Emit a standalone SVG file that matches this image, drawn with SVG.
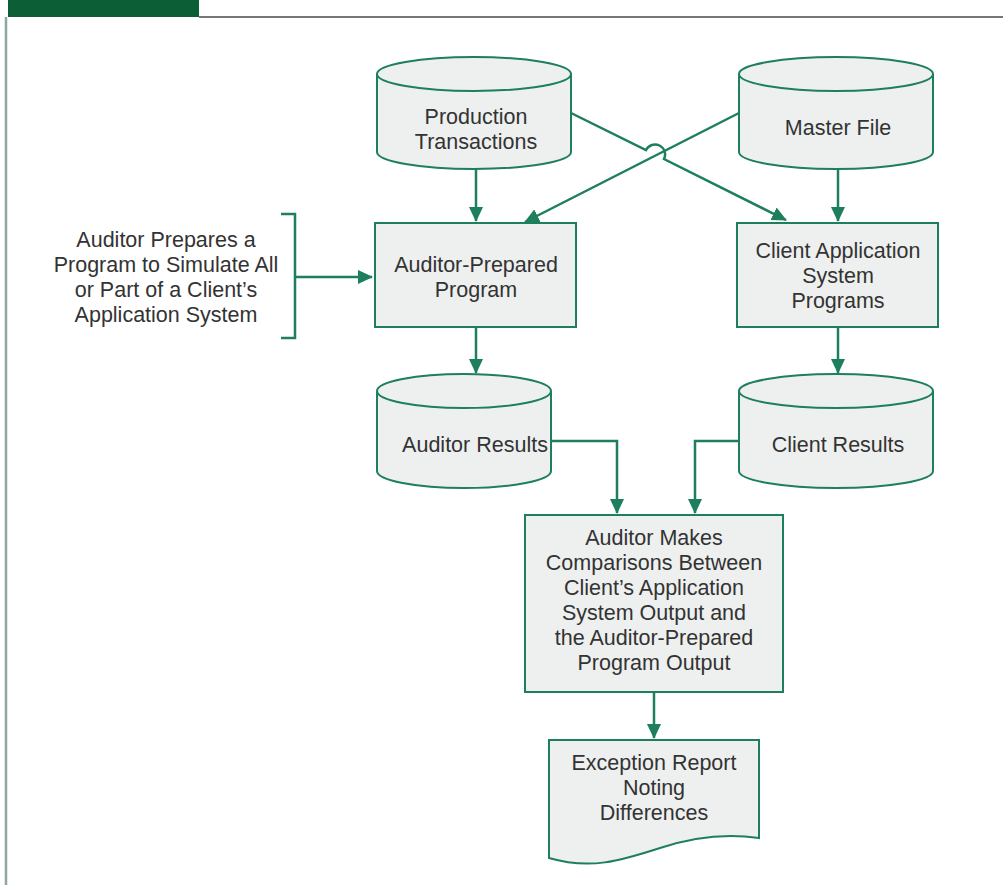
<svg xmlns="http://www.w3.org/2000/svg" width="1003" height="885" viewBox="0 0 1003 885">
<style>
.shape{fill:#eef0ef;stroke:#1d7f5c;stroke-width:2}
.line{fill:none;stroke:#1d7f5c;stroke-width:2.5}
.t{font-family:"Liberation Sans",Arial,sans-serif;font-size:21.5px;fill:#333;text-anchor:middle}
</style>
<defs>
<marker id="ah" markerWidth="16" markerHeight="14" refX="14" refY="7" orient="auto" markerUnits="userSpaceOnUse">
<path d="M0,0 L15,7 L0,14 Z" fill="#1d7f5c"/>
</marker>
</defs>
<rect width="1003" height="885" fill="#ffffff"/>
<g id="frame">
<rect x="8" y="0" width="191" height="17" fill="#0b5e36"/>
<line x1="199" y1="17" x2="1003" y2="17" stroke="#777" stroke-width="2"/>
<line x1="6" y1="17" x2="6" y2="885" stroke="#8aa99a" stroke-width="2.5"/>
</g>
<g id="connectors">
<line class="line" x1="476" y1="168" x2="476" y2="221" marker-end="url(#ah)"/>
<line class="line" x1="838" y1="168" x2="838" y2="221" marker-end="url(#ah)"/>
<path class="line" d="M571,113 L646,150 A10,10 0 0 1 664,159 L786,220" marker-end="url(#ah)"/>
<line class="line" x1="739" y1="113" x2="525" y2="222" marker-end="url(#ah)"/>
<line class="line" x1="296" y1="277" x2="372" y2="277" marker-end="url(#ah)"/>
<line class="line" x1="476" y1="327" x2="476" y2="373" marker-end="url(#ah)"/>
<line class="line" x1="838" y1="327" x2="838" y2="373" marker-end="url(#ah)"/>
<path class="line" d="M551,441 H617 V513" marker-end="url(#ah)"/>
<path class="line" d="M739,441 H695 V513" marker-end="url(#ah)"/>
<line class="line" x1="654" y1="692" x2="654" y2="738" marker-end="url(#ah)"/>
</g>
<g id="production-transactions">
<path class="shape" d="M377,74 A97,17 0 0 1 571,74 V152 A97,17 0 0 1 377,152 Z"/>
<path class="shape" d="M377,74 A97,17 0 0 0 571,74" fill="none"/>
<text class="t" x="476" y="124">Production</text>
<text class="t" x="476" y="149">Transactions</text>
</g>
<g id="master-file">
<path class="shape" d="M739,74 A97,17 0 0 1 933,74 V152 A97,17 0 0 1 739,152 Z"/>
<path class="shape" d="M739,74 A97,17 0 0 0 933,74" fill="none"/>
<text class="t" x="838" y="135">Master File</text>
</g>
<g id="auditor-note">
<text class="t" x="166" y="247">Auditor Prepares a</text>
<text class="t" x="166" y="272">Program to Simulate All</text>
<text class="t" x="166" y="297">or Part of a Client’s</text>
<text class="t" x="166" y="322">Application System</text>
<path class="line" d="M281,214 H295 V338 H281"/>
</g>
<g id="auditor-prepared-program">
<rect class="shape" x="375" y="223" width="201" height="104"/>
<text class="t" x="476" y="272">Auditor-Prepared</text>
<text class="t" x="476" y="297">Program</text>
</g>
<g id="client-application-programs">
<rect class="shape" x="737" y="223" width="201" height="104"/>
<text class="t" x="838" y="258">Client Application</text>
<text class="t" x="838" y="283">System</text>
<text class="t" x="838" y="308">Programs</text>
</g>
<g id="auditor-results">
<path class="shape" d="M377,391 A87,17 0 0 1 551,391 V471 A87,17 0 0 1 377,471 Z"/>
<path class="shape" d="M377,391 A87,17 0 0 0 551,391" fill="none"/>
<text class="t" x="475" y="452">Auditor Results</text>
</g>
<g id="client-results">
<path class="shape" d="M739,391 A97,17 0 0 1 933,391 V471 A97,17 0 0 1 739,471 Z"/>
<path class="shape" d="M739,391 A97,17 0 0 0 933,391" fill="none"/>
<text class="t" x="838" y="452">Client Results</text>
</g>
<g id="comparison">
<rect class="shape" x="525" y="515" width="258" height="177"/>
<text class="t" x="654" y="545">Auditor Makes</text>
<text class="t" x="654" y="570">Comparisons Between</text>
<text class="t" x="654" y="595">Client’s Application</text>
<text class="t" x="654" y="620">System Output and</text>
<text class="t" x="654" y="645">the Auditor-Prepared</text>
<text class="t" x="654" y="670">Program Output</text>
</g>
<g id="exception-report">
<path class="shape" d="M549,740 H759 V838 C725,833 690,838 660,848 C620,861 590,870 549,858 Z"/>
<text class="t" x="654" y="770">Exception Report</text>
<text class="t" x="654" y="795">Noting</text>
<text class="t" x="654" y="820">Differences</text>
</g>
</svg>
